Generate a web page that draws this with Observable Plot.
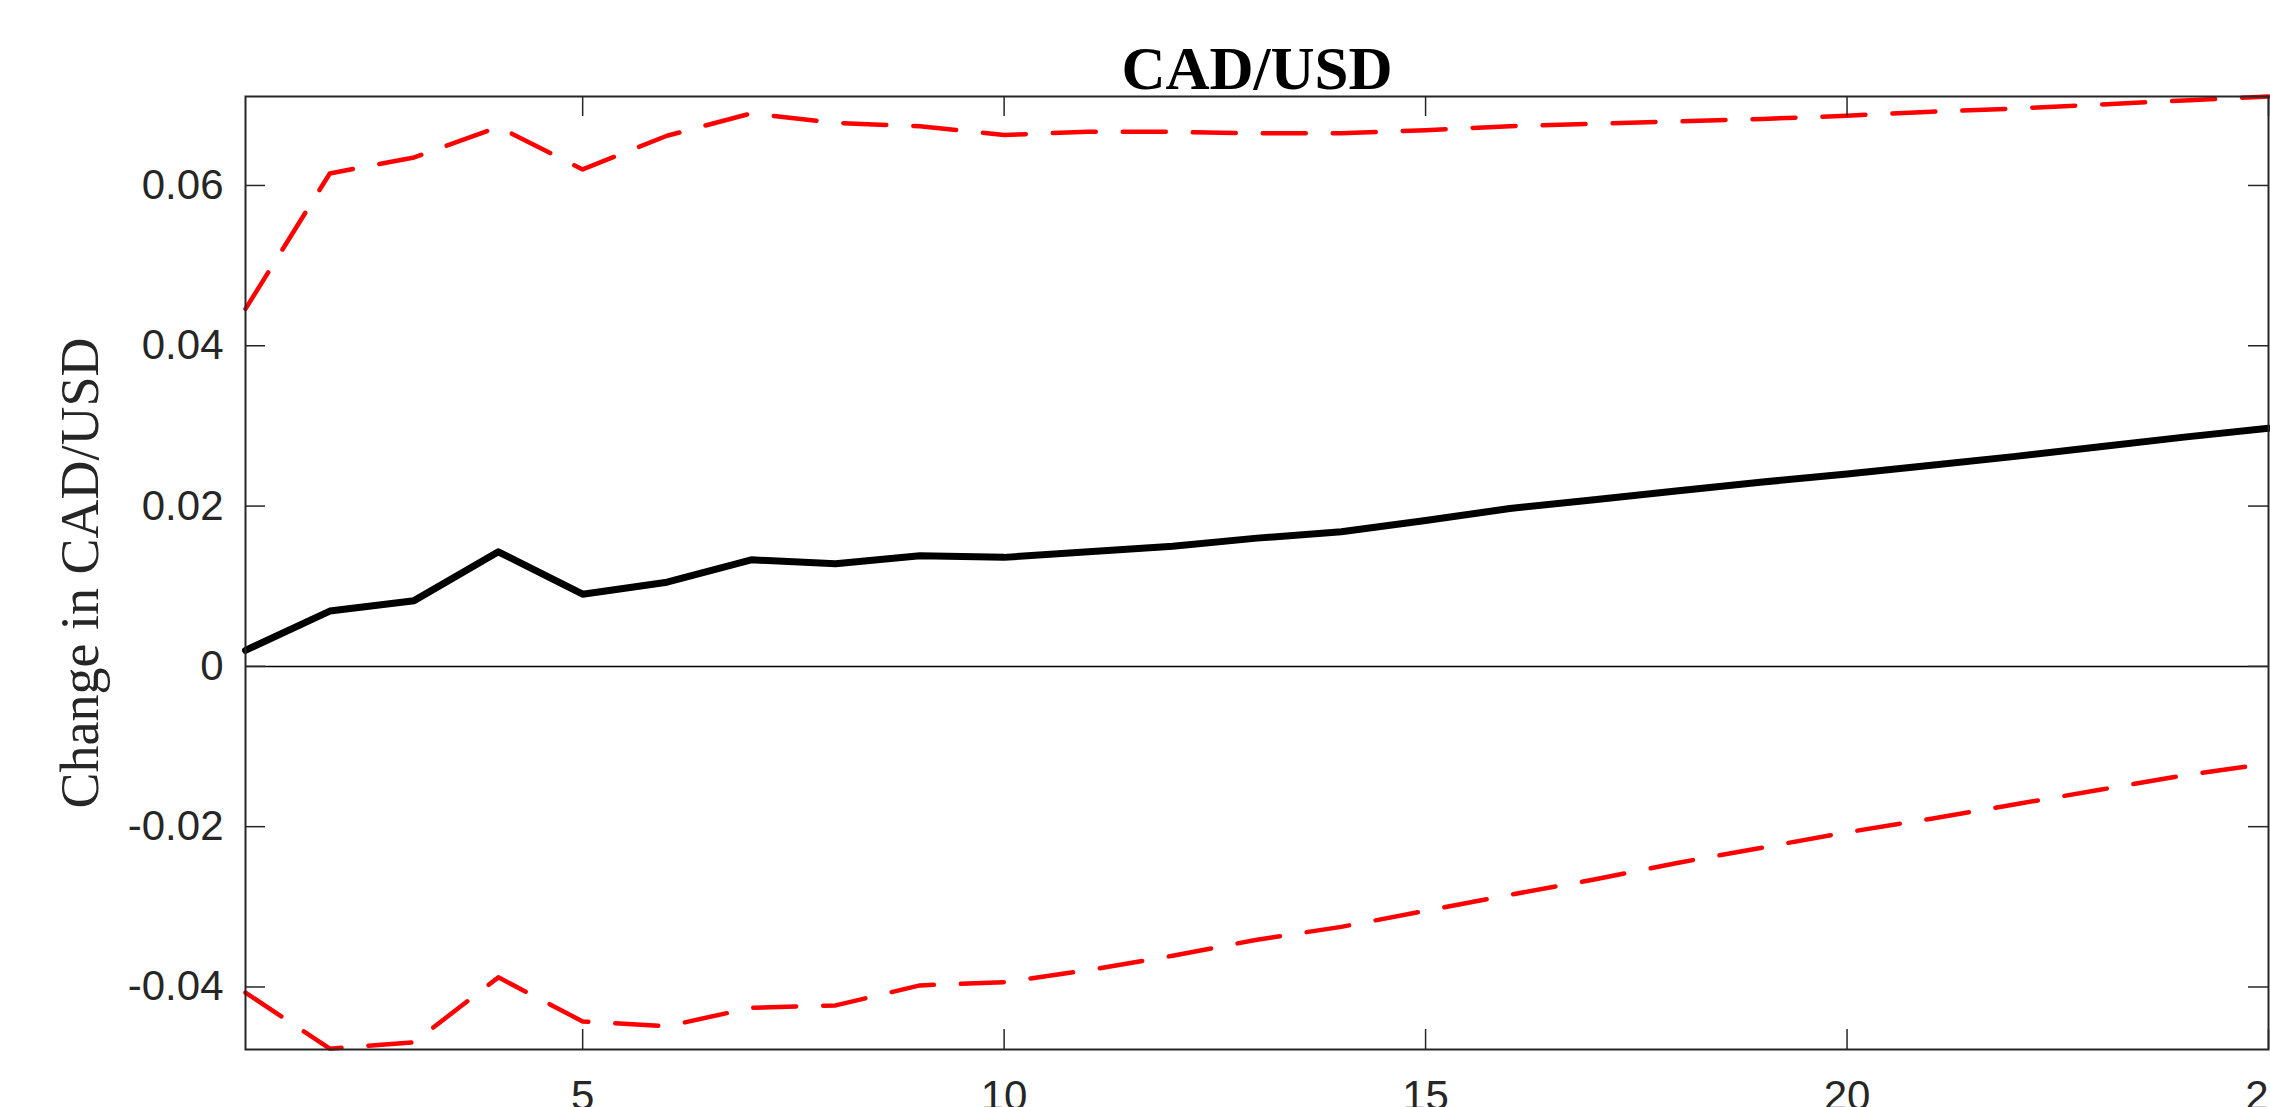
<!DOCTYPE html>
<html>
<head>
<meta charset="utf-8">
<script src="https://cdn.jsdelivr.net/npm/d3@7"></script>
<script src="https://cdn.jsdelivr.net/npm/@observablehq/plot@0.6"></script>
<style>
  html, body { margin: 0; padding: 0; background: #fff; overflow: hidden; }
</style>
</head>
<body>
<div id="chart"></div>
<script>
// ---- data ----
const horizon = [1,2,3,4,5,6,7,8,9,10,11,12,13,14,15,16,17,18,19,20,21,22,23,24,25];
const response = [0.0020, 0.0069, 0.0082, 0.0143, 0.0090, 0.0105, 0.0133, 0.0128, 0.0138, 0.0136,
                  0.0143, 0.0150, 0.0160, 0.0168, 0.0182, 0.0197, 0.0208, 0.0219, 0.0230, 0.0240,
                  0.0251, 0.0262, 0.0274, 0.0286, 0.0297];
const upperBand = [0.0446, 0.0615, 0.0635, 0.0673, 0.0620, 0.0662, 0.0690, 0.0678, 0.0674, 0.0663,
                   0.0667, 0.0667, 0.0665, 0.0665, 0.0669, 0.0674, 0.0677, 0.0680, 0.0683, 0.0687,
                   0.0692, 0.0696, 0.0701, 0.0706, 0.0711];
const lowerBand = [-0.0407, -0.0477, -0.0469, -0.0388, -0.0443, -0.0449, -0.0426, -0.0423, -0.0398, -0.0394,
                   -0.0379, -0.0361, -0.0341, -0.0325, -0.0305, -0.0285, -0.0266, -0.0245, -0.0226, -0.0207,
                   -0.0190, -0.0172, -0.0154, -0.0136, -0.0121];
const xTicks = [5, 10, 15, 20, 25];
const yTicks = [-0.04, -0.02, 0, 0.02, 0.04, 0.06];
const yTickLabels = ["-0.04", "-0.02", "0", "0.02", "0.04", "0.06"];
const xDomain = [1, 25];
const yDomain = [-0.0478, 0.0711];
const titleText = "CAD/USD";
const yLabelText = "Change in CAD/USD";

// ---- layout ----
const W = 2270, H = 1107;
const mL = 245, mR = 2, mT = 96, mB = 58;
const fw = W - mL - mR, fh = H - mT - mB;
const tickLen = 20;
const axisColor = "#262626";
const sans = "'Liberation Sans', Arial, Helvetica, sans-serif";
const serif = "'Liberation Serif', 'Times New Roman', serif";

const rows = horizon.map((t, i) => ({t, response: response[i], upper: upperBand[i], lower: lowerBand[i]}));

const chart = Plot.plot({
  width: W,
  height: H,
  marginLeft: mL,
  marginRight: mR,
  marginTop: mT,
  marginBottom: mB,
  x: {domain: xDomain},
  y: {domain: yDomain},
  style: {background: "white"},
  marks: [
    Plot.ruleY([0], {stroke: "black", strokeWidth: 1.5}),
    Plot.line(rows, {x: "t", y: "upper", stroke: "#ff0000", strokeWidth: 4.5, strokeDasharray: "43,27"}),
    Plot.line(rows, {x: "t", y: "lower", stroke: "#ff0000", strokeWidth: 4.5, strokeDasharray: "43,27"}),
    Plot.line(rows, {x: "t", y: "response", stroke: "black", strokeWidth: 7}),
    // inward ticks on all four sides
    Plot.tickY(yTicks, {y: d => d, stroke: axisColor, strokeWidth: 1.5, insetRight: fw - tickLen}),
    Plot.tickY(yTicks, {y: d => d, stroke: axisColor, strokeWidth: 1.5, insetLeft: fw - tickLen}),
    Plot.tickX(xTicks, {x: d => d, stroke: axisColor, strokeWidth: 1.5, insetTop: fh - tickLen}),
    Plot.tickX(xTicks, {x: d => d, stroke: axisColor, strokeWidth: 1.5, insetBottom: fh - tickLen}),
    Plot.frame({stroke: axisColor, strokeWidth: 2}),
    Plot.axisY(yTicks, {
      tickSize: 0, tickPadding: 22, fontSize: 42, fontFamily: sans, color: axisColor,
      tickFormat: d => yTickLabels[yTicks.indexOf(d)], label: null
    }),
    Plot.axisX(xTicks, {
      tickSize: 0, tickPadding: 31, fontSize: 42, fontFamily: sans, color: axisColor,
      tickFormat: d => String(d), label: null
    }),
    Plot.text([titleText], {
      text: d => d, frameAnchor: "top", lineAnchor: "bottom", dy: -8,
      fontSize: 61, fontWeight: "bold", fontFamily: serif, fill: "black"
    }),
    Plot.text([yLabelText], {
      text: d => d, frameAnchor: "left", textAnchor: "middle", lineAnchor: "middle",
      rotate: -90, dx: -165,
      fontSize: 54, fontFamily: serif, fill: axisColor
    })
  ]
});

document.getElementById("chart").appendChild(chart);
</script>
</body>
</html>
